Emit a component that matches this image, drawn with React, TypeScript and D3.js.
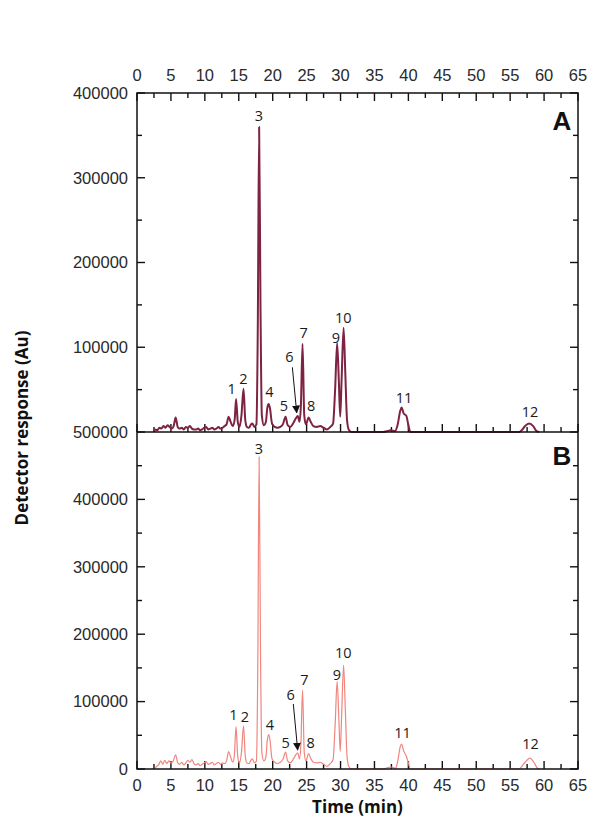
import React from "react";
import { scaleLinear, line, curveMonotoneX } from "d3";

// axis ticks
const xTicks = [0, 5, 10, 15, 20, 25, 30, 35, 40, 45, 50, 55, 60, 65];
const xMinor = [2.5, 7.5, 12.5, 17.5, 22.5, 27.5, 32.5, 37.5, 42.5, 47.5, 52.5, 57.5, 62.5];
const yTicksA = [100000, 200000, 300000, 400000];
const yMinorA = [50000, 150000, 250000, 350000];
const yTicksB = [0, 100000, 200000, 300000, 400000, 500000];
const yMinorB = [50000, 150000, 250000, 350000, 450000];

// chromatogram A (time min, response)
const traceA: [number, number][] = [
  [2.5, 0], [2.7, 3000], [3.0, 2000], [3.3, 5000], [3.6, 4000], [3.9, 7000], [4.2, 5000],
  [4.5, 8000], [4.8, 6000], [5.1, 4000], [5.4, 7000], [5.7, 17000], [6.0, 6000], [6.3, 4000],
  [6.6, 5000], [6.9, 3000], [7.2, 6000], [7.5, 5000], [7.8, 7000], [8.1, 4000], [8.4, 3000],
  [8.7, 3000], [9.0, 4000], [9.3, 2000], [9.6, 3000], [9.9, 5000], [10.2, 6000], [10.5, 3000],
  [10.8, 4000], [11.1, 5000], [11.4, 3000], [11.7, 4000], [12.0, 6000], [12.3, 4000],
  [12.6, 5000], [12.9, 7000], [13.2, 9000], [13.5, 18000], [13.8, 12000], [14.1, 7000],
  [14.4, 15000], [14.6, 39000], [14.85, 12000], [15.1, 6000], [15.4, 20000], [15.7, 51000],
  [15.95, 15000], [16.2, 6000], [16.5, 5000], [16.8, 9000], [17.0, 10000], [17.3, 6000],
  [17.6, 9000], [17.8, 120000], [18.0, 360000], [18.2, 150000], [18.4, 20000], [18.7, 8000],
  [19.0, 12000], [19.2, 28000], [19.4, 33000], [19.6, 28000], [19.9, 10000], [20.3, 6000],
  [20.7, 5000], [21.1, 6000], [21.5, 9000], [21.9, 18000], [22.2, 8000], [22.6, 6000],
  [23.0, 10000], [23.4, 16000], [23.7, 19000], [23.95, 12000], [24.15, 30000], [24.4, 104000],
  [24.65, 20000], [24.9, 9000], [25.3, 17000], [25.6, 12000], [26.0, 7000], [26.5, 6000],
  [27.0, 7000], [27.5, 5000], [28.0, 3000], [28.5, 6000], [28.9, 10000], [29.2, 50000],
  [29.5, 105000], [29.75, 60000], [29.95, 18000], [30.15, 60000], [30.45, 123000],
  [30.7, 70000], [30.95, 15000], [31.2, 3000], [31.6, 0], [36.3, 0], [36.8, 1000],
  [37.4, 2000], [38.0, 1000], [38.4, 8000], [38.8, 25000], [39.0, 29000], [39.3, 22000],
  [39.7, 19000], [40.0, 8000], [40.3, 0], [56.3, 0], [56.7, 2000], [57.2, 7000],
  [57.8, 10000], [58.4, 7000], [58.9, 1000], [59.3, 0],
];

// chromatogram B
const traceB: [number, number][] = [
  [2.6, 0], [2.9, 4000], [3.2, 6000], [3.5, 12000], [3.8, 7000], [4.1, 13000], [4.4, 8000],
  [4.7, 12000], [5.0, 9000], [5.3, 11000], [5.7, 21000], [6.0, 9000], [6.3, 7000],
  [6.6, 10000], [6.9, 6000], [7.2, 9000], [7.5, 13000], [7.8, 10000], [8.1, 14000],
  [8.4, 8000], [8.7, 6000], [9.0, 8000], [9.3, 5000], [9.6, 7000], [9.9, 9000], [10.2, 11000],
  [10.5, 7000], [10.8, 8000], [11.1, 10000], [11.4, 6000], [11.7, 8000], [12.0, 10000],
  [12.3, 7000], [12.6, 9000], [12.9, 8000], [13.2, 12000], [13.5, 26000], [13.8, 18000],
  [14.1, 10000], [14.35, 20000], [14.6, 63000], [14.85, 18000], [15.1, 9000], [15.4, 25000],
  [15.7, 64000], [15.95, 20000], [16.2, 9000], [16.5, 8000], [16.8, 13000], [17.0, 15000],
  [17.3, 9000], [17.6, 12000], [17.8, 150000], [18.0, 463000], [18.2, 180000], [18.4, 25000],
  [18.7, 12000], [19.0, 18000], [19.2, 42000], [19.4, 51000], [19.6, 43000], [19.9, 15000],
  [20.3, 10000], [20.7, 8000], [21.1, 10000], [21.5, 14000], [21.9, 25000], [22.2, 12000],
  [22.6, 9000], [23.0, 14000], [23.4, 21000], [23.7, 24000], [23.95, 15000], [24.15, 35000],
  [24.4, 117000], [24.65, 25000], [24.9, 12000], [25.3, 23000], [25.6, 16000], [26.0, 10000],
  [26.5, 9000], [27.0, 10000], [27.5, 7000], [28.0, 4000], [28.5, 8000], [28.9, 14000],
  [29.2, 65000], [29.5, 130000], [29.75, 75000], [29.95, 26000], [30.15, 75000],
  [30.45, 154000], [30.7, 90000], [30.95, 20000], [31.2, 4000], [31.6, 0], [36.3, 0],
  [36.8, 1500], [37.5, 3000], [38.1, 1000], [38.4, 10000], [38.8, 33000], [39.0, 37000],
  [39.3, 27000], [39.7, 19000], [40.0, 9000], [40.3, 0], [56.3, 0], [56.6, 2500],
  [57.2, 10000], [57.9, 16000], [58.5, 10000], [59.0, 1500], [59.3, 0],
];

// peak number labels (text centre, in data units)
const peakIds = ["1", "2", "3", "4", "5", "6", "7", "8", "9", "10", "11", "12"];
const labelTimeA = [13.96, 15.67, 17.98, 19.5, 21.67, 22.45, 24.57, 25.65, 29.3, 30.4, 39.35, 57.92];
const labelValA = [50400, 62900, 372900, 46800, 30700, 88100, 117200, 30700, 111000, 135000, 40500, 23200];
const labelTimeB = [14.2, 15.92, 17.98, 19.6, 21.9, 22.65, 24.66, 25.6, 29.45, 30.4, 39.15, 58.0];
const labelValB = [80100, 76700, 474800, 65300, 39000, 109800, 132000, 39000, 140000, 172000, 53900, 37100];

// arrow to peak 6: [t0, v0, t1, v1]
const arrowA = [22.9, 76300, 23.54, 22800];
const arrowB = [23.04, 96400, 23.68, 28200];

const W = 590;
const H = 835;
const colorA = "#7e2343";
const colorB = "#f0867f";
const tickFont = "'Liberation Sans', Arial, sans-serif";
const labelFont = "'Open Sans', sans-serif";

const x = scaleLinear().domain([0, 65]).range([137, 578]);
const yA = scaleLinear().domain([0, 400000]).range([432, 93]);
const yB = scaleLinear().domain([0, 500000]).range([769, 432]);

const MAJ = 8;
const MIN = 5;

function Panel({ y, trace, color, width, labelT, labelV, arrow }) {
  const path = line<[number, number]>()
    .x((d) => x(d[0]))
    .y((d) => y(d[1]))
    .curve(curveMonotoneX)(trace);
  return (
    <g>
      <path d={path || ""} fill="none" stroke={color} strokeWidth={width} strokeLinejoin="round" />
      {peakIds.map((id, i) => (
        <text
          key={id}
          x={x(labelT[i])}
          y={y(labelV[i])}
          dy="0.35em"
          textAnchor="middle"
          fontFamily={labelFont}
          fontSize={14.5}
          fill="#1a1a1a"
        >
          {id}
        </text>
      ))}
      <line
        x1={x(arrow[0])}
        y1={y(arrow[1])}
        x2={x(arrow[2])}
        y2={y(arrow[3])}
        stroke="#111"
        strokeWidth={1}
        markerEnd="url(#head)"
      />
    </g>
  );
}

export default function App() {
  const [x0, x1] = x.range();
  const yTopA = yA(400000);
  const yMid = yA(0);
  const yBot = yB(0);
  return (
    <svg width={W} height={H} style={{ position: "absolute", left: 0, top: 0, background: "#fff" }}>
      <defs>
        <marker id="head" viewBox="0 0 10 10" refX="9" refY="5" markerWidth="8" markerHeight="8" markerUnits="userSpaceOnUse" orient="auto">
          <path d="M0,0 L10,5 L0,10 Z" fill="#111" />
        </marker>
      </defs>

      {/* ticks */}
      <g stroke="#111" strokeWidth={1.4}>
        {xTicks.map((t) => (
          <g key={"xm" + t}>
            <line x1={x(t)} x2={x(t)} y1={yTopA} y2={yTopA + MAJ} />
            <line x1={x(t)} x2={x(t)} y1={yMid} y2={yMid - MAJ} />
            <line x1={x(t)} x2={x(t)} y1={yBot} y2={yBot - MAJ} />
          </g>
        ))}
        {xMinor.map((t) => (
          <g key={"xn" + t}>
            <line x1={x(t)} x2={x(t)} y1={yTopA} y2={yTopA + MIN} />
            <line x1={x(t)} x2={x(t)} y1={yMid} y2={yMid - MIN} />
            <line x1={x(t)} x2={x(t)} y1={yBot} y2={yBot - MIN} />
          </g>
        ))}
        {yTicksA.map((v) => (
          <g key={"ya" + v}>
            <line x1={x0} x2={x0 + MAJ} y1={yA(v)} y2={yA(v)} />
            <line x1={x1} x2={x1 - MAJ} y1={yA(v)} y2={yA(v)} />
          </g>
        ))}
        {yMinorA.map((v) => (
          <g key={"yan" + v}>
            <line x1={x0} x2={x0 + MIN} y1={yA(v)} y2={yA(v)} />
            <line x1={x1} x2={x1 - MIN} y1={yA(v)} y2={yA(v)} />
          </g>
        ))}
        {yTicksB.map((v) => (
          <g key={"yb" + v}>
            <line x1={x0} x2={x0 + MAJ} y1={yB(v)} y2={yB(v)} />
            <line x1={x1} x2={x1 - MAJ} y1={yB(v)} y2={yB(v)} />
          </g>
        ))}
        {yMinorB.map((v) => (
          <g key={"ybn" + v}>
            <line x1={x0} x2={x0 + MIN} y1={yB(v)} y2={yB(v)} />
            <line x1={x1} x2={x1 - MIN} y1={yB(v)} y2={yB(v)} />
          </g>
        ))}
      </g>

      <Panel y={yA} trace={traceA} color={colorA} width={2} labelT={labelTimeA} labelV={labelValA} arrow={arrowA} />
      <Panel y={yB} trace={traceB} color={colorB} width={1.2} labelT={labelTimeB} labelV={labelValB} arrow={arrowB} />

      {/* frames */}
      <rect x={x0} y={yTopA} width={x1 - x0} height={yBot - yTopA} fill="none" stroke="#111" strokeWidth={1.5} />
      <line x1={x0} x2={x1} y1={yMid} y2={yMid} stroke="#111" strokeWidth={1.5} />

      {/* tick labels */}
      <g fontFamily={tickFont} fontSize={16.5} fill="#2a2a2a">
        {xTicks.map((t) => (
          <text key={"tt" + t} x={x(t)} y={yTopA - 12} textAnchor="middle">{t}</text>
        ))}
        {xTicks.map((t) => (
          <text key={"bt" + t} x={x(t)} y={yBot + 22} textAnchor="middle">{t}</text>
        ))}
        {yTicksA.map((v) => (
          <text key={"la" + v} x={x0 - 9} y={yA(v)} dy="0.35em" textAnchor="end">{v}</text>
        ))}
        {yTicksB.map((v) => (
          <text key={"lb" + v} x={x0 - 9} y={yB(v)} dy="0.35em" textAnchor="end">{v}</text>
        ))}
      </g>

      {/* panel letters */}
      <text x={x1 - 16} y={yTopA + 37} textAnchor="middle" fontFamily={tickFont} fontWeight="bold" fontSize={26} fill="#111">A</text>
      <text x={x1 - 16} y={yMid + 33} textAnchor="middle" fontFamily={tickFont} fontWeight="bold" fontSize={26} fill="#111">B</text>

      {/* axis titles */}
      <text
        transform={`translate(22, ${(yTopA + yBot) / 2 - 3}) rotate(-90)`}
        textAnchor="middle"
        dy="0.35em"
        fontFamily={labelFont}
        fontWeight="bold"
        fontSize={17}
        fill="#111"
      >
        Detector response  (Au)
      </text>
      <text x={(x0 + x1) / 2} y={813} textAnchor="middle" fontFamily={labelFont} fontWeight="bold" fontSize={17} fill="#111">
        Time (min)
      </text>
    </svg>
  );
}
